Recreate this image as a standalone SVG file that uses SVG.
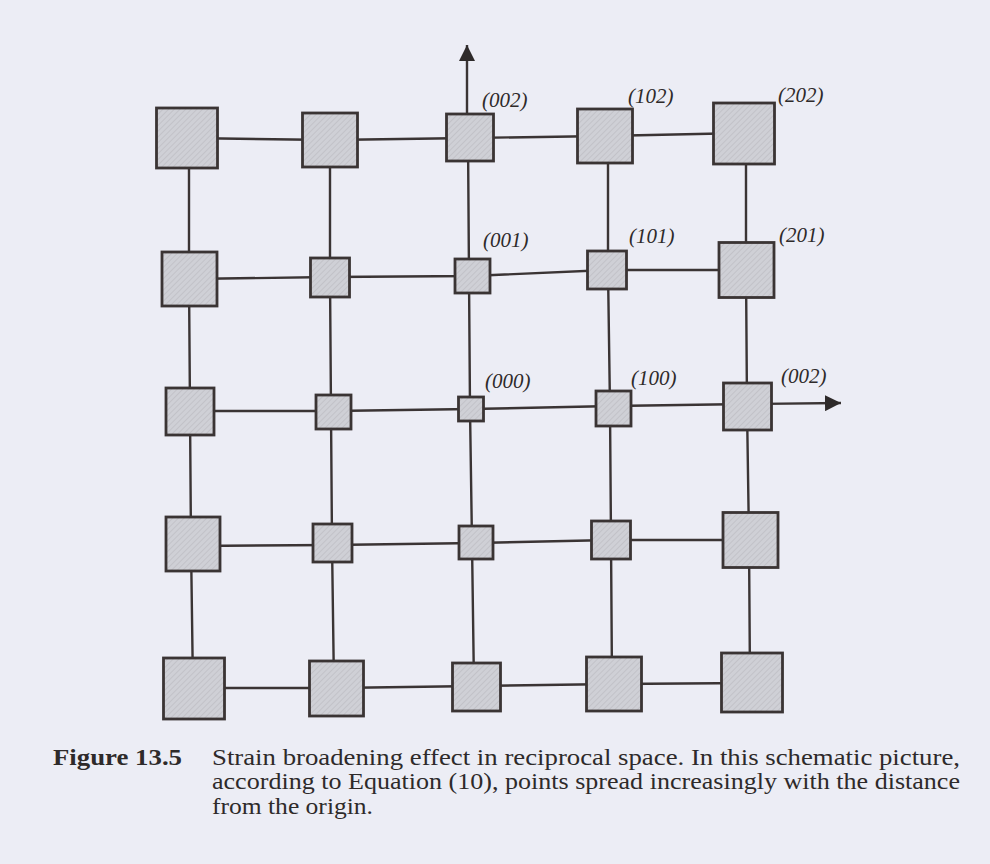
<svg xmlns="http://www.w3.org/2000/svg" width="990" height="864" viewBox="0 0 990 864">
<style>
.bg{fill:#ecedf5}
.ln{fill:none;stroke:#3a3434;stroke-width:2.4}
.sq{fill:url(#hatch);stroke:#3a3434;stroke-width:2.8}
.lb{font-family:"Liberation Serif","Times New Roman",serif;font-style:italic;font-size:21px;fill:#2e2a2a}
.cap{font-family:"Liberation Serif","Times New Roman",serif;font-size:24px;fill:#2e2a2a}
.capb{font-weight:bold}
</style>
<defs>
<pattern id="hatch" width="4" height="4" patternUnits="userSpaceOnUse" patternTransform="rotate(45)">
<rect width="4" height="4" fill="#cfd0d6"/>
<line x1="0" y1="0" x2="0" y2="4" stroke="#b9b9bf" stroke-width="1.2"/>
</pattern>
<marker id="ah" viewBox="0 0 16 16" refX="16" refY="8" markerWidth="16" markerHeight="16" markerUnits="userSpaceOnUse" orient="auto">
<path d="M0,0 L16,8 L0,16 Z" fill="#2e2a2a"/>
</marker>
</defs>
<rect class="bg" x="0" y="0" width="990" height="864"/>

<g id="connectors">
<polyline class="ln" points="187,138 330,140 470,138 604,136 744,133"/>
<polyline class="ln" points="189,279 330,277 472,276 607,270 746,270"/>
<polyline class="ln" points="190,411 333,411 471,409 613,406 747,404"/>
<polyline class="ln" points="193,546 332,545 476,543 611,540 750,540"/>
<polyline class="ln" points="194,688 336,688 476,686 614,684 752,683"/>
<polyline class="ln" points="189,138 189,279 190,411 191,544 193,689"/>
<polyline class="ln" points="330,140 330,277 331,412 332,543 334,688"/>
<polyline class="ln" points="468,138 469,276 470,409 472,543 474,687"/>
<polyline class="ln" points="608,136 608,270 610,408 611,540 612,684"/>
<polyline class="ln" points="746,133 746,270 747,407 749,540 750,683"/>
<line class="ln" x1="467" y1="140" x2="467" y2="45" marker-end="url(#ah)"/>
<line class="ln" x1="747" y1="404" x2="841" y2="403" marker-end="url(#ah)"/>
</g>

<g id="n-2_2"><rect class="sq" x="156.5" y="108" width="61" height="60"/></g>
<g id="n-1_2"><rect class="sq" x="302.5" y="113" width="55" height="54"/></g>
<g id="n002top"><rect class="sq" x="446.5" y="114" width="47" height="47"/><text class="lb" x="482" y="107">(002)</text></g>
<g id="n102"><rect class="sq" x="577.5" y="109" width="55" height="54"/><text class="lb" x="628" y="103">(102)</text></g>
<g id="n202"><rect class="sq" x="713.5" y="103" width="61" height="61"/><text class="lb" x="778" y="102">(202)</text></g>

<g id="n-2_1"><rect class="sq" x="162" y="252" width="55" height="54"/></g>
<g id="n-1_1"><rect class="sq" x="310.5" y="258" width="39" height="39"/></g>
<g id="n001"><rect class="sq" x="455" y="259" width="35" height="34"/><text class="lb" x="483" y="247">(001)</text></g>
<g id="n101"><rect class="sq" x="587.5" y="251" width="39" height="38"/><text class="lb" x="629" y="243">(101)</text></g>
<g id="n201"><rect class="sq" x="719" y="242.5" width="55" height="55"/><text class="lb" x="779" y="242">(201)</text></g>

<g id="n-2_0"><rect class="sq" x="166" y="388" width="48" height="47"/></g>
<g id="n-1_0"><rect class="sq" x="316" y="395" width="35" height="34"/></g>
<g id="n000"><rect class="sq" x="458.5" y="397" width="25" height="24"/><text class="lb" x="485" y="388">(000)</text></g>
<g id="n100"><rect class="sq" x="596" y="391" width="35" height="35"/><text class="lb" x="631" y="385">(100)</text></g>
<g id="n002right"><rect class="sq" x="723.5" y="383" width="48" height="47"/><text class="lb" x="781" y="383">(002)</text></g>

<g id="n-2_-1"><rect class="sq" x="166" y="517" width="54" height="54"/></g>
<g id="n-1_-1"><rect class="sq" x="313" y="524" width="39" height="38"/></g>
<g id="n00-1"><rect class="sq" x="459" y="526" width="34" height="33"/></g>
<g id="n10-1"><rect class="sq" x="591.5" y="521" width="39" height="38"/></g>
<g id="n20-1"><rect class="sq" x="723" y="512.5" width="55" height="55"/></g>

<g id="n-2_-2"><rect class="sq" x="163.5" y="658" width="61" height="61"/></g>
<g id="n-1_-2"><rect class="sq" x="309.5" y="661" width="54" height="55"/></g>
<g id="n00-2"><rect class="sq" x="452.5" y="663" width="48" height="48"/></g>
<g id="n10-2"><rect class="sq" x="586.5" y="657" width="55" height="54"/></g>
<g id="n20-2"><rect class="sq" x="721.5" y="653" width="61" height="59"/></g>

<g id="caption">
<text class="cap capb" x="53" y="765" textLength="129" lengthAdjust="spacingAndGlyphs">Figure 13.5</text>
<text class="cap" x="212" y="765" textLength="748" lengthAdjust="spacingAndGlyphs">Strain broadening effect in reciprocal space. In this schematic picture,</text>
<text class="cap" x="212" y="789" textLength="748" lengthAdjust="spacingAndGlyphs">according to Equation (10), points spread increasingly with the distance</text>
<text class="cap" x="212" y="814" textLength="161" lengthAdjust="spacingAndGlyphs">from the origin.</text>
</g>
</svg>
